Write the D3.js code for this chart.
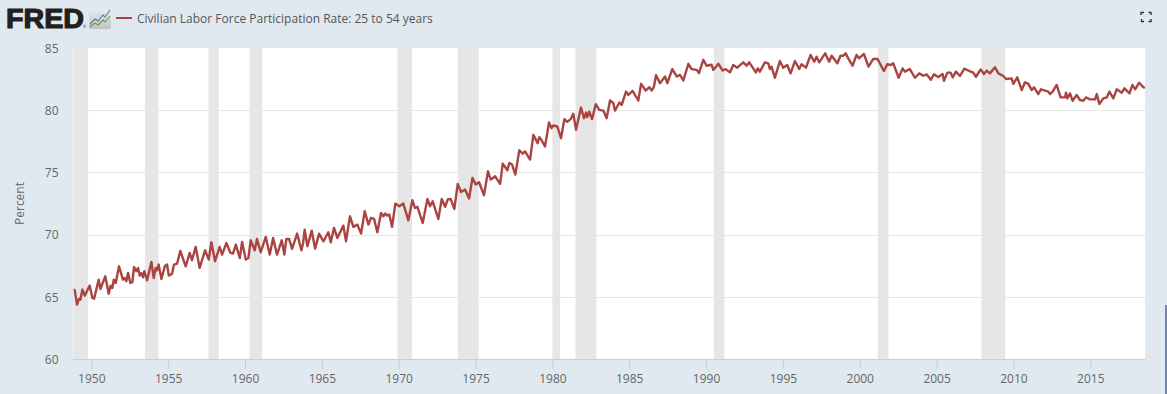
<!DOCTYPE html>
<html><head><meta charset="utf-8">
<script src="https://cdn.jsdelivr.net/npm/d3@7"></script>
<style>html,body{margin:0;padding:0;background:#e1e9f0;overflow:hidden}svg{display:block}</style>
</head><body><div id="c"></div>
<script>
const seriesName = "Civilian Labor Force Participation Rate: 25 to 54 years";
const yAxisTitle = "Percent";
const xTicks = [1950,1955,1960,1965,1970,1975,1980,1985,1990,1995,2000,2005,2010,2015];
const yTicks = [60,65,70,75,80,85];
const recessionStart = [1948.84,1953.5,1957.62,1960.29,1969.92,1973.84,1980.0,1981.5,1990.5,2001.17,2007.92];
const recessionEnd   = [1949.79,1954.37,1958.29,1961.12,1970.87,1975.2,1980.5,1982.87,1991.2,2001.87,2009.46];
const years = [
1948.84,1948.92,1949.07,1949.20,1949.29,1949.42,1949.57,1949.89,1950.07,1950.18,1950.48,1950.59,1950.91,1951.13,1951.26,1951.37,1951.46,1951.59,1951.80,
1952.06,1952.17,1952.28,1952.39,1952.54,1952.67,1952.78,1952.93,1953.04,1953.15,1953.26,1953.37,1953.45,1953.63,1953.91,1954.06,1954.19,1954.28,1954.38,1954.56,1954.78,1954.93,
1955.04,1955.25,1955.38,1955.58,1955.79,1956.14,1956.40,1956.55,1956.79,1957.05,1957.40,1957.64,1957.81,1958.05,1958.35,1958.51,1958.79,1959.05,1959.22,1959.40,1959.66,1959.81,
1960.05,1960.22,1960.37,1960.63,1960.78,1961.02,1961.35,1961.61,1961.83,1962.08,1962.39,1962.56,1962.69,1962.87,1963.06,1963.39,1963.67,1963.78,
1963.88,1964.06,1964.34,1964.56,1964.82,1965.10,1965.42,1965.58,1965.79,1966.01,1966.40,1966.57,1966.83,1967.05,1967.31,1967.55,1967.79,1968.03,1968.20,1968.40,1968.61,1968.85,1969.00,1969.13,1969.26,1969.39,1969.57,1969.78,
1970.04,1970.30,1970.63,1970.89,1971.06,1971.22,1971.56,1971.87,1972.04,1972.21,1972.58,1972.80,1973.02,1973.19,1973.38,1973.62,1973.84,1974.06,1974.32,1974.58,1974.80,1975.01,1975.23,1975.55,1975.81,1975.99,
1976.27,1976.60,1976.77,1977.07,1977.20,1977.38,1977.59,1977.85,1978.07,1978.22,1978.55,
1978.76,1979.04,1979.15,1979.26,1979.52,1979.78,1979.95,1980.06,1980.32,1980.56,1980.78,1980.97,1981.19,1981.36,1981.54,1981.86,1982.06,1982.19,1982.27,1982.40,1982.58,1982.82,
1983.05,1983.31,1983.53,1983.75,1983.97,1984.07,1984.36,1984.51,1984.79,1984.94,1985.22,1985.59,1985.77,1986.07,1986.31,1986.46,1986.61,1986.74,1987.00,1987.33,1987.48,1987.80,
1988.09,1988.30,1988.52,1988.85,1989.06,1989.39,1989.54,1989.82,1990.04,1990.36,1990.47,1990.80,1991.08,1991.28,
1991.55,1991.77,1992.03,1992.42,1992.64,1992.81,1993.07,1993.24,1993.37,1993.50,1993.83,1994.05,1994.15,1994.26,1994.48,1994.80,1995.02,1995.28,1995.50,1995.78,1996.06,1996.21,1996.50,1996.80,
1997.04,1997.19,1997.36,1997.75,1998.01,1998.17,1998.54,1998.75,1998.93,1999.08,1999.25,1999.53,1999.79,1999.95,2000.27,2000.57,2000.88,2001.16,2001.57,2001.79,2002.01,2002.18,2002.53,2002.79,2002.94,
2003.26,2003.59,2003.87,2004.13,2004.35,2004.63,2004.83,2005.11,
2005.39,2005.48,2005.70,2005.91,2006.05,2006.26,2006.52,2006.80,2007.13,2007.39,2007.56,2007.87,2008.08,2008.26,2008.47,2008.80,2009.02,2009.34,2009.52,2009.88,2009.99,
2010.25,2010.54,2010.75,2010.97,2011.19,2011.34,2011.62,2011.79,2012.27,2012.38,2012.55,2012.81,2013.07,2013.36,2013.42,2013.51,2013.68,2013.85,2014.11,2014.33,2014.55,2014.72,2014.98,
2015.31,2015.42,2015.59,2015.85,2016.07,2016.24,2016.50,2016.72,2017.05,2017.22,2017.55,2017.74,2017.92,2018.18,2018.46,2018.55
];
const rates = [
65.58,65.52,64.37,64.83,64.77,65.58,65.09,65.90,64.91,64.85,66.38,65.63,66.65,65.25,65.90,65.71,66.38,66.11,67.45,
66.38,66.51,66.25,66.92,66.11,66.17,67.40,67.05,67.32,66.70,66.92,66.57,67.05,66.33,67.80,66.51,67.32,67.13,67.59,66.43,67.45,67.59,
66.70,66.86,67.59,67.67,68.69,67.45,68.53,67.94,69.01,67.32,68.74,67.99,69.38,67.86,69.01,68.39,69.33,68.53,68.47,69.20,68.12,69.41,
67.99,68.12,69.54,68.74,69.65,68.58,69.81,68.39,69.73,68.39,69.54,68.39,69.65,69.65,68.85,70.08,68.74,69.33,
70.40,69.06,70.32,68.87,70.08,69.46,70.19,69.38,70.54,69.73,70.72,69.46,71.47,70.62,70.80,70.08,71.88,70.80,71.34,71.26,70.19,71.74,71.47,71.69,71.53,71.61,70.62,72.49,
72.28,72.49,71.15,72.76,72.14,72.23,70.94,72.87,72.28,72.68,71.26,72.87,72.23,72.82,72.87,72.06,74.08,73.43,73.62,72.90,74.56,74.02,74.21,73.16,75.09,74.42,
74.69,74.08,75.71,75.17,75.76,75.63,74.83,76.78,76.51,76.70,76.03,
78.02,77.35,77.83,77.67,77.08,79.01,78.55,78.77,78.69,77.75,79.28,79.06,79.28,79.71,78.42,80.21,79.36,79.81,79.44,79.89,79.28,80.48,
80.03,79.97,79.36,80.78,80.56,79.97,80.62,80.43,81.50,81.23,81.55,80.78,82.12,81.58,81.85,81.58,81.90,82.82,82.17,82.71,82.17,83.30,
82.71,82.84,82.39,83.73,83.30,83.24,82.98,84.05,83.57,83.65,83.24,83.73,83.19,83.30,
83.04,83.63,83.42,83.85,83.58,83.85,83.36,83.04,83.36,83.10,83.85,83.77,83.31,83.50,82.61,83.95,83.42,83.63,82.96,83.95,83.31,83.69,83.42,84.44,
83.90,84.30,83.85,84.57,83.90,84.38,83.77,84.38,84.38,84.57,84.17,83.58,84.44,84.17,84.52,83.50,84.12,84.12,83.15,83.69,83.63,83.77,82.61,83.36,83.10,
83.31,82.61,82.96,82.77,82.88,82.45,82.88,82.67,
82.91,82.37,83.02,83.02,82.64,83.10,82.75,83.34,83.15,83.02,82.69,83.28,82.91,83.18,82.96,83.45,82.96,82.75,82.51,82.56,82.11,
82.64,81.62,82.24,82.11,81.62,81.84,81.30,81.68,81.49,81.30,81.49,82.03,81.03,81.03,81.41,80.95,81.35,80.76,81.22,80.82,80.76,81.03,80.87,
80.87,81.30,80.49,80.95,81.03,81.49,80.95,81.68,81.41,81.76,81.35,82.03,81.68,82.21,81.84,81.78
];

const W = 1167, H = 394;
const font = "'Open Sans', sans-serif";
const svg = d3.select("#c").append("svg").attr("width", W).attr("height", H).style("background", "#e1e9f0");
const L = 73.5, R = 1145, T = 48, B = 359;
const x = d3.scaleLinear().domain([1948.84, 2018.56]).range([L, R]);
const y = d3.scaleLinear().domain([60, 85]).range([B, T]);

svg.append("rect").attr("x", L).attr("y", T).attr("width", R - L).attr("height", B - T).attr("fill", "#fff");
svg.append("clipPath").attr("id", "plot").append("rect").attr("x", L).attr("y", T - 2).attr("width", R - L).attr("height", B - T + 2);

// grid
svg.append("g").selectAll("line").data(yTicks.filter(d => d > 60 && d < 85)).join("line")
  .attr("x1", L).attr("x2", R).attr("y1", d => Math.round(y(d)) + .5).attr("y2", d => Math.round(y(d)) + .5)
  .attr("stroke", "#e6e6e6").attr("stroke-width", 1);

// recessions
svg.append("g").attr("clip-path", "url(#plot)").selectAll("rect").data(recessionStart).join("rect")
  .attr("x", d => x(d)).attr("width", (d, i) => x(recessionEnd[i]) - x(d))
  .attr("y", T).attr("height", B - T).attr("fill", "#e6e6e6");

// y axis
const gy = svg.append("g").attr("transform", `translate(${L},0.5)`)
  .call(d3.axisLeft(y).tickValues(yTicks).tickSize(0).tickPadding(15));
gy.select(".domain").remove();
gy.selectAll("text").attr("font-family", font).attr("font-size", 12).attr("fill", "#666");

// x axis
const gx = svg.append("g").attr("transform", `translate(0,${B})`)
  .call(d3.axisBottom(x).tickValues(xTicks).tickFormat(d3.format("d")).tickSize(10).tickPadding(5));
gx.select(".domain").attr("stroke", "#c0d0e0").attr("d", `M${L},0.5H${R}`);
gx.selectAll("line").attr("stroke", "#c0d0e0");
gx.selectAll("text").attr("font-family", font).attr("font-size", 12).attr("fill", "#666");

svg.append("text").attr("transform", "translate(24,203.5) rotate(-90)").attr("text-anchor", "middle")
  .attr("font-family", font).attr("font-size", 12).attr("fill", "#666").text(yAxisTitle);

// series
const line = d3.line().x((d, i) => x(years[i])).y(d => y(d));
svg.append("path").datum(rates).attr("clip-path", "url(#plot)").attr("d", line)
  .attr("fill", "none").attr("stroke", "#a94442").attr("stroke-width", 2.4).attr("stroke-linejoin", "round");

// header: logo, icon, legend
svg.append("text").attr("x", 6).attr("y", 28).attr("font-family", "'Liberation Sans', Arial, sans-serif")
  .attr("font-weight", 700).attr("font-size", 27).attr("fill", "#231f20").attr("stroke", "#231f20").attr("stroke-width", 1.1)
  .attr("textLength", 78).attr("lengthAdjust", "spacingAndGlyphs").text("FRED");
svg.append("text").attr("x", 83).attr("y", 28).attr("font-family", font).attr("font-size", 4).attr("fill", "#231f20").text("®");
const defs = svg.append("defs");
const grad = defs.append("linearGradient").attr("id", "ic").attr("x1", 0).attr("y1", 0).attr("x2", 0).attr("y2", 1);
grad.append("stop").attr("offset", 0).attr("stop-color", "#e8ecef");
grad.append("stop").attr("offset", 1).attr("stop-color", "#bfc3c3");
const icon = svg.append("g").attr("transform", "translate(89,9)");
icon.append("rect").attr("width", 22).attr("height", 20).attr("rx", 2).attr("fill", "url(#ic)");
icon.append("path").attr("d", "M1,15L6,10L9,12L14,6L16,8L21,1").attr("fill", "none").attr("stroke", "#4f7ba3").attr("stroke-width", 1.1);
icon.append("path").attr("d", "M1,18L6,14L9,16L14,11L16,13L21,7").attr("fill", "none").attr("stroke", "#6f9a45").attr("stroke-width", 1.1);

svg.append("line").attr("x1", 116).attr("x2", 132).attr("y1", 18).attr("y2", 18).attr("stroke", "#a94442").attr("stroke-width", 2);
svg.append("text").attr("x", 137).attr("y", 23).attr("font-family", font).attr("font-size", 12).attr("fill", "#555").text(seriesName);

// fullscreen glyph
svg.append("path").attr("transform", "translate(1141,12)")
  .attr("d", "M0,3V0.5H3M7.5,0.5H10V3M10,7V9.5H7.5M3,9.5H0.5V7")
  .attr("fill", "none").attr("stroke", "#333").attr("stroke-width", 1.4);

// window edge
svg.append("rect").attr("x", 1165).attr("y", 305).attr("width", 2).attr("height", 89).attr("fill", "#7286ab");
</script></body></html>
